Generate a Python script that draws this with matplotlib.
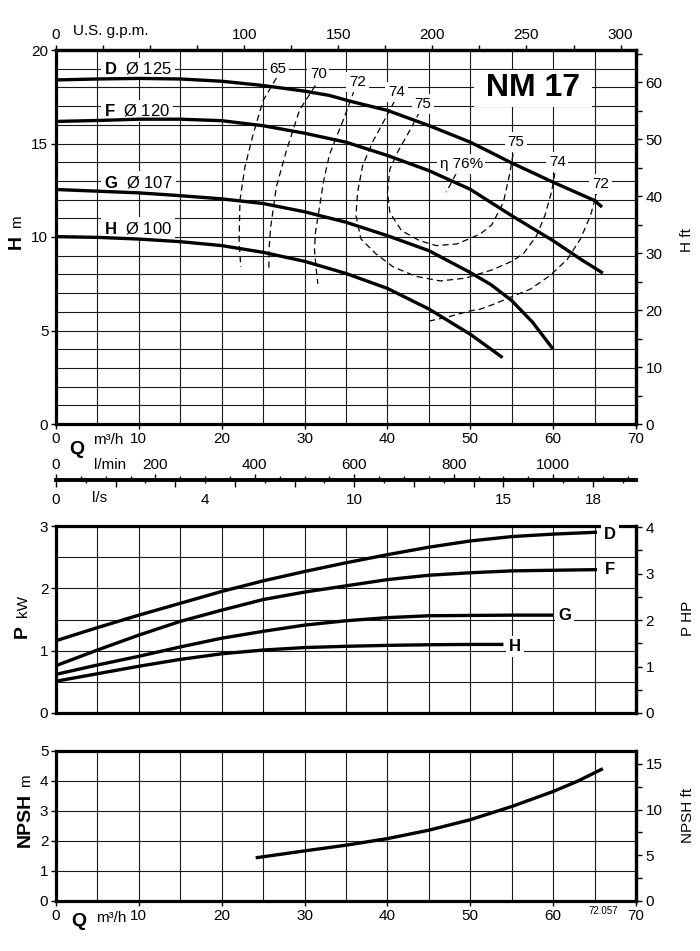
import matplotlib
matplotlib.use('Agg')
import matplotlib.pyplot as plt
from matplotlib.ticker import MultipleLocator, FixedLocator

plt.rcParams['font.family'] = ['Liberation Sans', 'DejaVu Sans']
plt.rcParams['mathtext.fontset'] = 'custom'
plt.rcParams['mathtext.rm'] = 'Liberation Sans'
plt.rcParams['mathtext.bf'] = 'Liberation Sans:bold'
plt.rcParams['font.size'] = 11

# ---- Q-H curves (m3/h, m)
qD = [0, 5, 10, 15, 20, 25, 30, 33, 35.6, 40, 45, 50, 52.4, 55, 60, 65, 65.9]
hD = [18.4, 18.45, 18.48, 18.45, 18.33, 18.1, 17.8, 17.57, 17.25, 16.77, 15.96, 15.07, 14.54, 13.96, 12.93, 11.95, 11.6]
qF = [0, 5, 10, 15, 20, 25, 30, 35, 40, 45, 50, 55, 60, 63.3, 66]
hF = [16.18, 16.23, 16.3, 16.3, 16.22, 15.95, 15.55, 15.07, 14.36, 13.55, 12.55, 11.14, 9.8, 8.82, 8.07]
qG = [0, 5, 10, 15, 20, 25, 30, 35, 40, 45, 50, 52.5, 55, 57.5, 60]
hG = [12.54, 12.45, 12.36, 12.21, 12.04, 11.79, 11.35, 10.79, 10.07, 9.27, 8.1, 7.45, 6.6, 5.45, 4.0]
qH = [0, 5, 10, 15, 20, 25, 30, 35, 40, 45, 50, 53.9]
hH = [10.02, 9.98, 9.89, 9.75, 9.54, 9.18, 8.7, 8.05, 7.25, 6.15, 4.8, 3.55]

# ---- iso-efficiency lines
e65_q = [26.6, 25.0, 23.8, 22.8, 22.2, 22.1, 22.3]
e65_h = [18.5, 17.3, 15.5, 13.75, 11.96, 9.8, 8.4]
e70_q = [31.3, 29.4, 27.8, 26.6, 25.9, 25.7, 25.7]
e70_h = [18.1, 16.8, 14.6, 12.7, 10.5, 9.3, 8.2]
e72a_q = [36.0, 34.8, 33.8, 33.0, 32.3, 31.8, 31.3, 31.2, 31.4, 31.6]
e72a_h = [17.85, 16.4, 15.3, 14.4, 13.0, 11.6, 10.2, 9.3, 8.3, 7.5]
e72b_q = [45.0, 47.5, 50.0, 51.2, 52.8, 54.8, 57.2, 59.6, 61.7, 63.3, 64.5, 65.3]
e72b_h = [5.5, 5.75, 6.05, 6.14, 6.4, 6.77, 7.2, 7.93, 8.8, 9.9, 11.14, 12.4]
e74_q = [40.9, 39.5, 38.2, 37.0, 36.4, 36.2, 36.8, 38.6, 40.7, 43.4, 46.4, 49.4, 52.7, 55.0, 56.4, 58.0, 59.0, 59.8, 60.2]
e74_h = [17.3, 16.14, 15.07, 13.8, 12.4, 11.14, 9.9, 9.1, 8.4, 7.9, 7.65, 7.8, 8.25, 8.7, 9.1, 10.07, 11.14, 12.4, 13.4]
e75_q = [43.9, 42.7, 41.3, 40.3, 40.0, 40.3, 41.7, 43.9, 45.9, 48.4, 51.2, 52.6, 54.0, 54.8, 55.2]
e75_h = [16.7, 15.7, 14.6, 13.64, 12.4, 11.3, 10.34, 9.8, 9.54, 9.63, 10.16, 10.65, 11.86, 13.46, 14.54]
e76_q = [48.3, 47.1]
e76_h = [13.4, 12.4]

eff_txt = ['65', '70', '72', '74', '75', 'η 76%', '75', '74', '72']
eff_q = [26.8, 31.65, 36.4, 41.1, 44.3, 48.9, 55.5, 60.5, 65.7]
eff_h = [19.0, 18.7, 18.3, 17.75, 17.1, 13.9, 15.07, 14.0, 12.84]

imp_name = ['D', 'F', 'G', 'H']
imp_diam = ['Ø 125', 'Ø 120', 'Ø 107', 'Ø 100']
imp_lab_h = [19.0, 16.75, 12.92, 10.47]

# ---- power curves (kW)
pqD = [0, 5, 10, 15, 20, 25, 30, 35, 40, 45, 50, 55, 60, 65.3]
pD = [1.16, 1.37, 1.57, 1.76, 1.95, 2.12, 2.27, 2.41, 2.54, 2.66, 2.76, 2.83, 2.87, 2.9]
pqF = [0, 5, 10, 15, 20, 25, 30, 35, 40, 45, 50, 55, 60, 65.3]
pF = [0.76, 1.01, 1.25, 1.47, 1.65, 1.82, 1.94, 2.04, 2.14, 2.21, 2.25, 2.28, 2.29, 2.3]
pqG = [0, 5, 10, 15, 20, 25, 30, 35, 40, 45, 50, 55, 60]
pG = [0.62, 0.77, 0.91, 1.06, 1.2, 1.31, 1.41, 1.48, 1.53, 1.56, 1.565, 1.57, 1.57]
pqH = [0, 5, 10, 15, 20, 25, 30, 35, 40, 45, 50, 54]
pH = [0.51, 0.63, 0.75, 0.86, 0.95, 1.01, 1.05, 1.07, 1.085, 1.095, 1.1, 1.1]
p_lab_q = [66.9, 66.9, 61.4, 55.4]
p_lab_p = [2.86, 2.3, 1.56, 1.07]

# ---- NPSH (m)
nq = [24.1, 30, 35, 40, 45, 50, 55, 60, 63, 66]
npsh = [1.44, 1.67, 1.86, 2.08, 2.36, 2.71, 3.15, 3.65, 4.0, 4.41]

# secondary scale ticks
ft_major = [0, 10, 20, 30, 40, 50, 60]
ft_minor = [5, 15, 25, 35, 45, 55, 65]
hp_major = [0, 1, 2, 3, 4]
hp_minor = [0.5, 1.5, 2.5, 3.5]
npft_major = [0, 5, 10, 15]
npft_minor = [2.5, 7.5, 12.5]
gpm_major = [0, 100, 150, 200, 250, 300]
gpm_minor = [25, 50, 75, 125, 175, 225, 275]
lmin_major = [0, 200, 400, 600, 800, 1000]
lmin_minor = [50, 100, 150, 250, 300, 350, 450, 500, 550, 650, 700, 750, 850, 900, 950, 1050, 1100, 1150]
ls_major = [0, 2, 4, 6, 8, 10, 12, 14, 15, 16, 18]
ls_minor = [1, 3, 5, 7, 9, 11, 13, 17, 19]
ls_lab_pos = [0, 5, 10, 15, 18]
ls_lab_txt = ['0', '4', '10', '15', '18']

W, H = 700, 951
fig = plt.figure(figsize=(W / 100, H / 100), dpi=100)


def box(l, t, r, b):
    return [l / W, 1 - b / H, (r - l) / W, (b - t) / H]


def ftext(x, y, s, **kw):
    fig.text(x / W, 1 - y / H, s, **kw)


def frame(ax, ymax, ygrid, ylab):
    ax.set_xlim(0, 70)
    ax.set_ylim(0, ymax)
    ax.xaxis.set_major_locator(MultipleLocator(10))
    ax.xaxis.set_minor_locator(MultipleLocator(5))
    ax.yaxis.set_major_locator(MultipleLocator(ylab))
    ax.yaxis.set_minor_locator(MultipleLocator(ygrid))
    ax.grid(which='both', color='#1a1a1a', lw=0.8)
    ax.set_axisbelow(True)
    for s in ax.spines.values():
        s.set_linewidth(2.3)
    ax.tick_params(which='major', direction='out', length=3.5, width=1,
                   labelsize=11, pad=2)
    ax.tick_params(axis='x', which='major', pad=2.5)
    ax.tick_params(which='minor', length=0)


def right_axis(ax, f, major, minor):
    r = ax.secondary_yaxis('right', functions=(lambda v: v * f, lambda v: v / f))
    r.yaxis.set_major_locator(FixedLocator(major))
    r.yaxis.set_minor_locator(FixedLocator(minor))
    r.tick_params(which='both', direction='out', length=4, width=1, labelsize=11, pad=3)
    r.spines['right'].set_linewidth(2.3)
    return r


curve_kw = dict(color='black', lw=2.4, solid_capstyle='butt', zorder=4)
dash_kw = dict(color='black', lw=0.9, dashes=(5, 3.2), zorder=2)

# ================= Q-H chart
ax1 = fig.add_axes(box(56, 50, 636, 424))
frame(ax1, 20, 1, 5)
right_axis(ax1, 1 / 0.3048, ft_major, ft_minor)

top = ax1.secondary_xaxis('top', functions=(lambda q: q * 4.40287, lambda g: g / 4.40287))
top.xaxis.set_major_locator(FixedLocator(gpm_major))
top.xaxis.set_minor_locator(FixedLocator(gpm_minor))
top.tick_params(which='both', direction='out', length=3.5, width=1, labelsize=11, pad=2.5)
top.spines['top'].set_linewidth(2.3)

for q, h in [(qD, hD), (qF, hF), (qG, hG), (qH, hH)]:
    ax1.plot(q, h, **curve_kw)
for q, h in [(e65_q, e65_h), (e70_q, e70_h), (e72a_q, e72a_h), (e72b_q, e72b_h),
             (e74_q, e74_h), (e75_q, e75_h), (e76_q, e76_h)]:
    ax1.plot(q, h, **dash_kw)

wbox = dict(boxstyle='square,pad=0.18', fc='white', ec='none')
for t, q, h in zip(eff_txt, eff_q, eff_h):
    ax1.text(q, h, t, ha='center', va='center', fontsize=11, bbox=wbox, zorder=3)
for n, d, h in zip(imp_name, imp_diam, imp_lab_h):
    ax1.text(5.8, h, r'$\mathbf{%s}$  %s' % (n, d), ha='left', va='center',
             fontsize=12, bbox=wbox, zorder=3)
ax1.text(57.6, 17.95, ' NM 17 ', ha='center', va='center', fontsize=23,
         fontweight='bold', bbox=dict(boxstyle='square,pad=0.1', fc='white', ec='none'),
         zorder=3)

ftext(111, 31, 'U.S. g.p.m.', ha='center', va='center', fontsize=11)

# ================= flow scales
axQ = fig.add_axes(box(56, 479.5, 636, 480.5))
axQ.set_xlim(0, 70)
axQ.set_yticks([])
for k in ['left', 'right', 'top']:
    axQ.spines[k].set_visible(False)
axQ.spines['bottom'].set_linewidth(2.8)
axQ.set_xticks([v * 3.6 for v in ls_major])
axQ.set_xticks([v * 3.6 for v in ls_minor], minor=True)
axQ.tick_params(which='major', direction='out', length=5, width=1, labelbottom=False)
axQ.tick_params(which='minor', direction='out', length=2.5, width=1)

ls_ax = axQ.secondary_xaxis('bottom', functions=(lambda q: q / 3.6, lambda s: s * 3.6))
ls_ax.set_xticks(ls_lab_pos, labels=ls_lab_txt)
ls_ax.tick_params(length=0, labelsize=11, pad=9)
ls_ax.spines['bottom'].set_visible(False)

lm_ax = axQ.secondary_xaxis('top', functions=(lambda q: q / 0.06, lambda l: l * 0.06))
lm_ax.xaxis.set_major_locator(FixedLocator(lmin_major))
lm_ax.xaxis.set_minor_locator(FixedLocator(lmin_minor))
lm_ax.tick_params(which='major', direction='out', length=3.5, width=1, labelsize=11, pad=2)
lm_ax.tick_params(which='minor', direction='out', length=2.5, width=1)
lm_ax.spines['top'].set_visible(False)

ftext(77, 450, 'Q', ha='center', va='center', fontsize=14, fontweight='bold')
ftext(108, 440, 'm³/h', ha='center', va='center', fontsize=11)
ftext(110, 465, 'l/min', ha='center', va='center', fontsize=11)
ftext(100, 498, 'l/s', ha='center', va='center', fontsize=11)

# ================= power chart
axP = fig.add_axes(box(56, 526, 636, 713))
frame(axP, 3, 0.5, 1)
axP.tick_params(axis='x', which='both', length=0, labelbottom=False)
right_axis(axP, 1.341, hp_major, hp_minor)
for q, p in [(pqD, pD), (pqF, pF), (pqG, pG), (pqH, pH)]:
    axP.plot(q, p, **curve_kw)
for n, q, p in zip(imp_name, p_lab_q, p_lab_p):
    axP.text(q, p, n, ha='center', va='center', fontsize=12, fontweight='bold',
             bbox=wbox, zorder=3)

# ================= NPSH chart
axN = fig.add_axes(box(56, 751, 636, 901))
frame(axN, 5, 1, 1)
right_axis(axN, 1 / 0.3048, npft_major, npft_minor)
axN.plot(nq, npsh, **curve_kw)
ftext(79, 921, 'Q', ha='center', va='center', fontsize=14, fontweight='bold')
ftext(111, 918, 'm³/h', ha='center', va='center', fontsize=11)
ftext(603, 911, '72.057', ha='center', va='center', fontsize=7)


# ================= axis titles
def ylab(x, y1, big, y2, small):
    if big:
        ftext(x, y1, big, rotation=90, rotation_mode='anchor', ha='center',
              va='baseline', fontsize=14, fontweight='bold')
    ftext(x, y2, small, rotation=90, rotation_mode='anchor', ha='center',
          va='baseline', fontsize=11)


ylab(21, 242, 'H', 222, 'm')
ylab(27, 632, 'P', 606, 'kW')
ylab(30, 820, 'NPSH', 781, 'm')
ylab(691, 0, None, 240, 'H ft')
ylab(692, 0, None, 618, 'P HP')
ylab(692, 0, None, 815, 'NPSH ft')

fig.savefig('out.png', dpi=100)
